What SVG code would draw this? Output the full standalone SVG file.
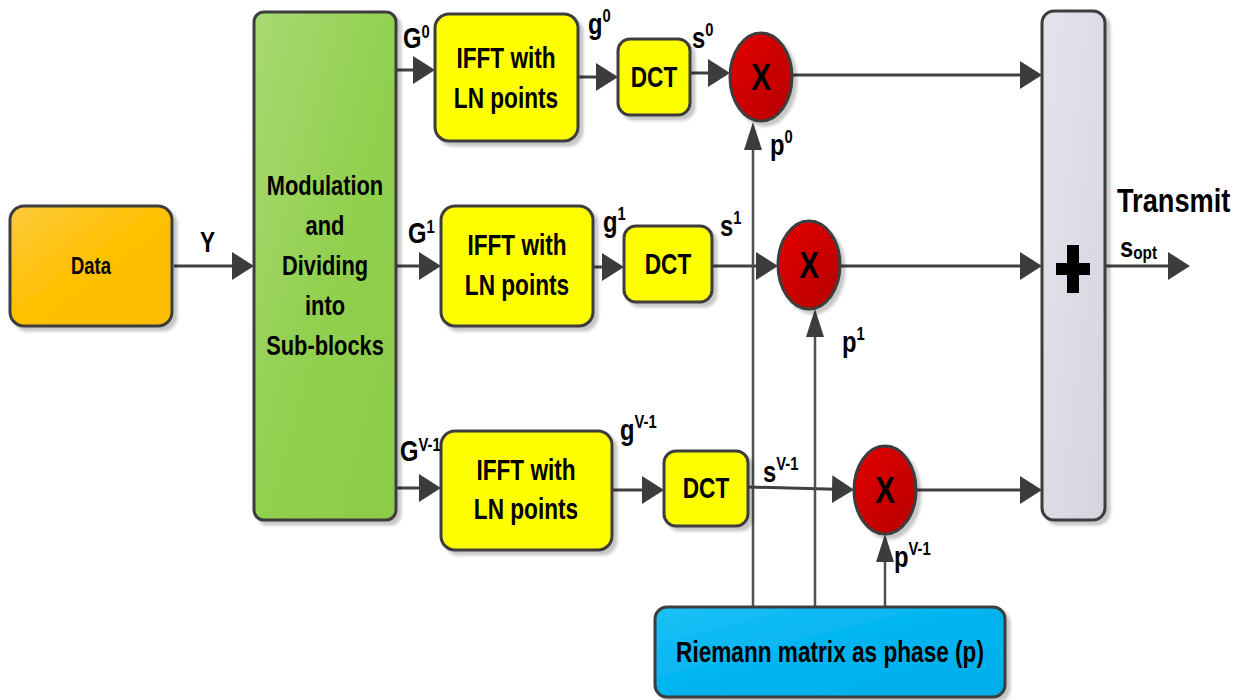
<svg xmlns="http://www.w3.org/2000/svg" width="1249" height="700" viewBox="0 0 1249 700">
<defs>
  <filter id="sh" x="-10%" y="-10%" width="130%" height="130%">
    <feDropShadow dx="4" dy="4" stdDeviation="1.5" flood-color="#000" flood-opacity="0.22"/>
  </filter>
  <linearGradient id="gData" x1="0" y1="0" x2="1" y2="1">
    <stop offset="0" stop-color="#fcca3c"/><stop offset="0.5" stop-color="#ffc000"/><stop offset="1" stop-color="#ffbc00"/>
  </linearGradient>
  <linearGradient id="gGreen" x1="0" y1="0" x2="1" y2="1">
    <stop offset="0" stop-color="#a8da74"/><stop offset="0.5" stop-color="#92d050"/><stop offset="1" stop-color="#8ccb48"/>
  </linearGradient>
  <linearGradient id="gRed" x1="0" y1="0" x2="1" y2="1">
    <stop offset="0" stop-color="#e60000"/><stop offset="0.5" stop-color="#cc0000"/><stop offset="1" stop-color="#b80000"/>
  </linearGradient>
  <linearGradient id="gBlue" x1="0" y1="0" x2="1" y2="1">
    <stop offset="0" stop-color="#1ec0f7"/><stop offset="0.5" stop-color="#00b4f0"/><stop offset="1" stop-color="#00aeea"/>
  </linearGradient>
  <linearGradient id="gGray" x1="0" y1="0" x2="1" y2="1">
    <stop offset="0" stop-color="#e4e4ec"/><stop offset="1" stop-color="#d5d5e0"/>
  </linearGradient>
  <marker id="ah" markerUnits="userSpaceOnUse" markerWidth="22" markerHeight="28" refX="12" refY="14" orient="auto">
    <path d="M0,0 L22,14 L0,28 z" fill="#3c3c3c"/>
  </marker>
  <marker id="av" markerUnits="userSpaceOnUse" markerWidth="28" markerHeight="18" refX="16" refY="9" orient="auto">
    <path d="M0,0 L28,9 L0,18 z" fill="#3c3c3c"/>
  </marker>
</defs>
<style>
  .box{stroke:#3d3d3d;stroke-width:3;filter:url(#sh)}
  .yel{fill:#ffff00}
  .t{font-family:"Liberation Sans",Arial,sans-serif;font-weight:bold;fill:#000}
  .bt{font-size:29px;text-anchor:middle}
  .lb{font-size:29px}
  .sp{font-size:18px}
  .c{stroke:#404040;stroke-width:3;fill:none;marker-end:url(#ah)}
  .v{stroke:#505050;stroke-width:2.5;fill:none;marker-end:url(#av)}
</style>

<g id="connectors">
  <line class="c" x1="174" y1="266" x2="244" y2="266"/>
  <line class="c" x1="396" y1="70" x2="425" y2="70"/>
  <line class="c" x1="396" y1="266" x2="431" y2="266"/>
  <line class="c" x1="396" y1="488" x2="431" y2="488"/>
  <line class="c" x1="578" y1="77" x2="608" y2="77"/>
  <line class="c" x1="593" y1="267" x2="614" y2="267"/>
  <line class="c" x1="612" y1="490" x2="654" y2="490"/>
  <line class="c" x1="690" y1="73" x2="720" y2="73"/>
  <line class="c" x1="712" y1="266" x2="768" y2="266"/>
  <line class="c" x1="748" y1="487" x2="844" y2="489.5"/>
  <line class="c" x1="792" y1="75" x2="1032" y2="75"/>
  <line class="c" x1="840" y1="266" x2="1032" y2="266"/>
  <line class="c" x1="916" y1="490" x2="1032" y2="490"/>
  <line class="c" x1="1106" y1="266" x2="1180" y2="266"/>
  <line class="v" x1="753" y1="607" x2="753" y2="134"/>
  <line class="v" x1="815" y1="607" x2="815" y2="321"/>
  <line class="v" x1="885" y1="607" x2="885" y2="546"/>
</g>

<g id="data">
  <rect class="box" x="10" y="206" width="162" height="120" rx="14" fill="url(#gData)"/>
  <text class="t" transform="translate(91,274) scale(0.8,1)" font-size="23" text-anchor="middle">Data</text>
</g>

<g id="modulation">
  <rect class="box" x="254" y="12" width="142" height="508" rx="10" fill="url(#gGreen)"/>
  <g class="t" font-size="28" text-anchor="middle">
    <text transform="translate(325,195) scale(0.78,1)">Modulation</text>
    <text transform="translate(325,235) scale(0.78,1)">and</text>
    <text transform="translate(325,275) scale(0.78,1)">Dividing</text>
    <text transform="translate(325,315) scale(0.78,1)">into</text>
    <text transform="translate(325,355) scale(0.78,1)">Sub-blocks</text>
  </g>
</g>

<g id="ifft0">
  <rect class="box yel" x="435" y="14" width="143" height="127" rx="14"/>
  <text class="t bt" transform="translate(506,68) scale(0.78,1)">IFFT with</text>
  <text class="t bt" transform="translate(506,108) scale(0.78,1)">LN points</text>
</g>
<g id="ifft1">
  <rect class="box yel" x="441" y="206" width="152" height="120" rx="14"/>
  <text class="t bt" transform="translate(517,255) scale(0.78,1)">IFFT with</text>
  <text class="t bt" transform="translate(517,295) scale(0.78,1)">LN points</text>
</g>
<g id="ifft2">
  <rect class="box yel" x="441" y="431" width="171" height="119" rx="14"/>
  <text class="t bt" transform="translate(526,480) scale(0.78,1)">IFFT with</text>
  <text class="t bt" transform="translate(526,519) scale(0.78,1)">LN points</text>
</g>

<g id="dct0">
  <rect class="box yel" x="618" y="39" width="72" height="76" rx="12"/>
  <text class="t bt" transform="translate(654,87) scale(0.78,1)">DCT</text>
</g>
<g id="dct1">
  <rect class="box yel" x="624" y="226" width="88" height="76" rx="12"/>
  <text class="t bt" transform="translate(668,274) scale(0.78,1)">DCT</text>
</g>
<g id="dct2">
  <rect class="box yel" x="664" y="451" width="84" height="75" rx="12"/>
  <text class="t bt" transform="translate(706,498) scale(0.78,1)">DCT</text>
</g>

<g id="mult0">
  <ellipse class="box" cx="761" cy="77" rx="31" ry="44" fill="url(#gRed)"/>
  <text class="t" transform="translate(761,90) scale(0.8,1)" font-size="37" text-anchor="middle">X</text>
</g>
<g id="mult1">
  <ellipse class="box" cx="809" cy="265" rx="31" ry="44" fill="url(#gRed)"/>
  <text class="t" transform="translate(809,278) scale(0.8,1)" font-size="37" text-anchor="middle">X</text>
</g>
<g id="mult2">
  <ellipse class="box" cx="885" cy="490" rx="31" ry="44" fill="url(#gRed)"/>
  <text class="t" transform="translate(885,503) scale(0.8,1)" font-size="37" text-anchor="middle">X</text>
</g>

<g id="summer">
  <rect class="box" x="1042" y="11" width="63" height="509" rx="12" fill="url(#gGray)"/>
  <rect x="1056" y="263" width="34" height="12" fill="#000"/>
  <rect x="1067" y="245" width="12" height="48" fill="#000"/>
</g>

<g id="riemann">
  <rect class="box" x="655" y="607" width="350" height="90" rx="12" fill="url(#gBlue)"/>
  <text class="t bt" transform="translate(830,662) scale(0.78,1)">Riemann matrix as phase (p)</text>
</g>

<g id="labels" class="t">
  <text transform="translate(200,252) scale(0.78,1)" font-size="29">Y</text>
  <text class="lb" transform="translate(403,48) scale(0.82,1)">G<tspan class="sp" dy="-10">0</tspan></text>
  <text class="lb" transform="translate(588,34) scale(0.82,1)">g<tspan class="sp" dy="-12">0</tspan></text>
  <text class="lb" transform="translate(692,48) scale(0.82,1)">s<tspan class="sp" dy="-12">0</tspan></text>
  <text class="lb" transform="translate(770,155) scale(0.82,1)">p<tspan class="sp" dy="-12">0</tspan></text>
  <text class="lb" transform="translate(408,243) scale(0.82,1)">G<tspan class="sp" dy="-10">1</tspan></text>
  <text class="lb" transform="translate(603,232) scale(0.82,1)">g<tspan class="sp" dy="-12">1</tspan></text>
  <text class="lb" transform="translate(720,236) scale(0.82,1)">s<tspan class="sp" dy="-12">1</tspan></text>
  <text class="lb" transform="translate(842,352) scale(0.82,1)">p<tspan class="sp" dy="-12">1</tspan></text>
  <text class="lb" transform="translate(400,461) scale(0.82,1)">G<tspan class="sp" dy="-10">V-1</tspan></text>
  <text class="lb" transform="translate(620,440) scale(0.82,1)">g<tspan class="sp" dy="-12">V-1</tspan></text>
  <text class="lb" transform="translate(763,482) scale(0.82,1)">s<tspan class="sp" dy="-12">V-1</tspan></text>
  <text class="lb" transform="translate(894,567) scale(0.82,1)">p<tspan class="sp" dy="-12">V-1</tspan></text>
  <text transform="translate(1117,212) scale(0.8,1)" font-size="34">Transmit</text>
  <text transform="translate(1120,257) scale(0.85,1)" font-size="28">s<tspan font-size="18" dy="2">opt</tspan></text>
</g>
</svg>
